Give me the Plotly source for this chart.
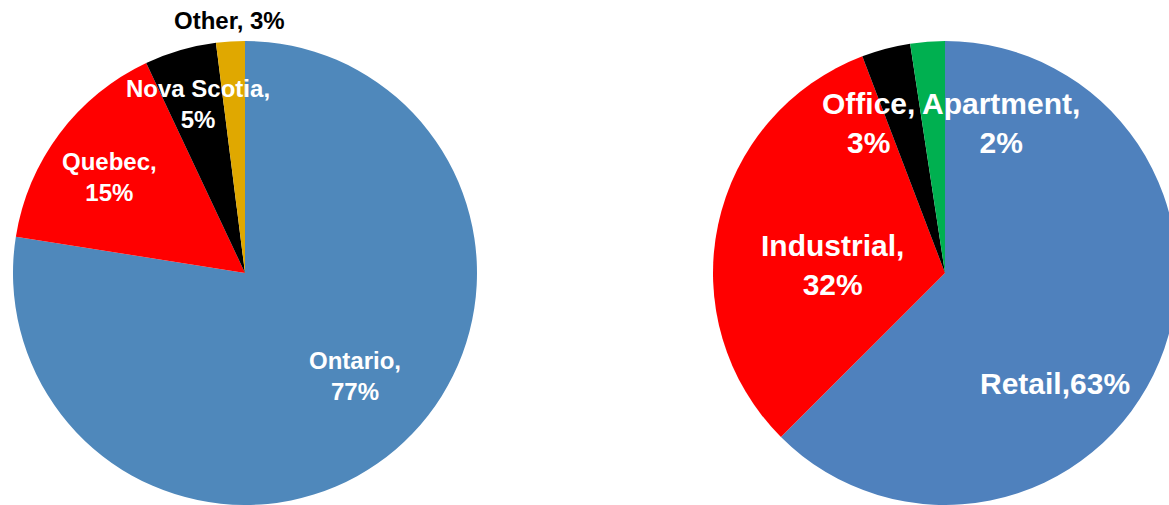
import plotly.graph_objects as go

# ---- data ----
prov_names = ["Ontario", "Quebec", "Nova Scotia", "Other"]
prov_values = [77.5, 15.5, 5.0, 2.0]
prov_pct = ["77%", "15%", "5%", "3%"]

type_names = ["Retail", "Industrial", "Office", "Apartment"]
type_values = [62.5, 31.7, 3.4, 2.4]
type_pct = ["63%", "32%", "3%", "2%"]

# ---- styles ----
prov_colors = ["#4F88BB", "#FF0000", "#000000", "#E0A800"]
type_colors = ["#4F81BD", "#FF0000", "#000000", "#00B050"]

# the right-hand pie in the reference runs slightly past the window edge,
# so the canvas is a little wider than the window and the overflow is hidden
W, H = 1181, 505


def px(x, y):
    return x / W, 1 - y / H


fig = go.Figure()
fig.add_trace(go.Pie(
    labels=prov_names, values=prov_values, sort=False, direction="clockwise",
    rotation=0, textinfo="none", showlegend=False,
    marker=dict(colors=prov_colors, line=dict(width=0)),
    domain=dict(x=[13 / W, 477 / W], y=[0, 464 / H]),
))
fig.add_trace(go.Pie(
    labels=type_names, values=type_values, sort=False, direction="clockwise",
    rotation=0, textinfo="none", showlegend=False,
    marker=dict(colors=type_colors, line=dict(width=0)),
    domain=dict(x=[713 / W, 1177 / W], y=[0, 464 / H]),
))

# label placement (pixel centres) and line-break style
prov_pos = [(355, 376), (109, 177), (198, 104), (229, 20)]
prov_break = ["<br>", "<br>", "<br>", " "]
prov_tcol = ["white", "white", "white", "black"]

type_pos = [(1055, 383), (833, 265), (868, 123), (1001, 123)]
type_break = ["", "<br>", "<br>", "<br>"]

font_family = "Liberation Sans, Arial, sans-serif"

for n, p, pos, br, c in zip(prov_names, prov_pct, prov_pos, prov_break, prov_tcol):
    x, y = px(*pos)
    fig.add_annotation(x=x, y=y, xref="paper", yref="paper", showarrow=False,
                       text=f"<b>{n},{br}{p}</b>", align="center",
                       xanchor="center", yanchor="middle",
                       font=dict(family=font_family, size=24, color=c))

for n, p, pos, br in zip(type_names, type_pct, type_pos, type_break):
    x, y = px(*pos)
    fig.add_annotation(x=x, y=y, xref="paper", yref="paper", showarrow=False,
                       text=f"<b>{n},{br}{p}</b>", align="center",
                       xanchor="center", yanchor="middle",
                       font=dict(family=font_family, size=30, color="white"))

fig.update_layout(
    width=W, height=H,
    margin=dict(l=0, r=0, t=0, b=0),
    paper_bgcolor="white", plot_bgcolor="white",
)

fig.write_html(
    "out.html",
    post_script=(
        "document.documentElement.style.overflow='hidden';"
        "document.body.style.overflow='hidden';"
        "document.body.style.margin='0';"
    ),
)
